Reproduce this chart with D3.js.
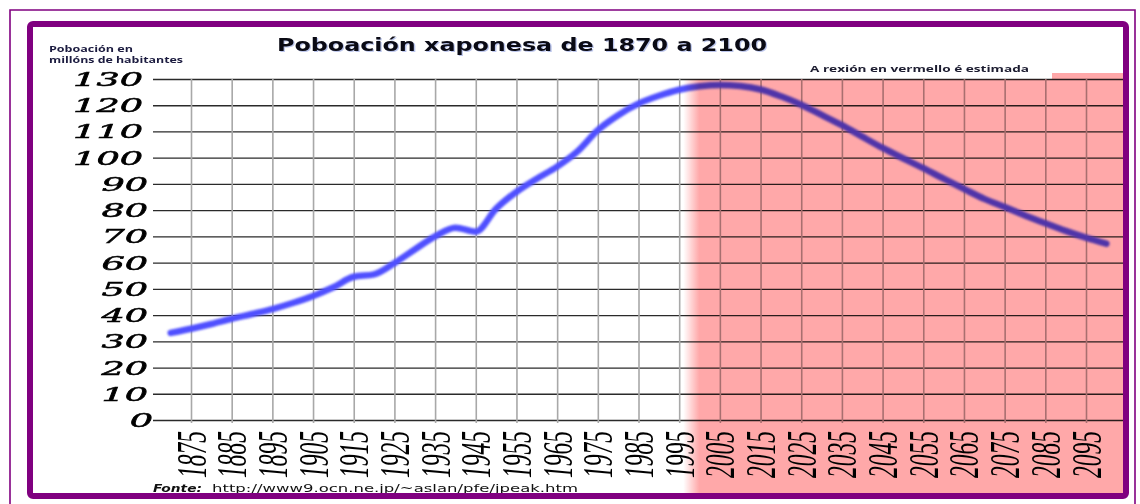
<!DOCTYPE html>
<html>
<head>
<meta charset="utf-8">
<script src="https://cdn.jsdelivr.net/npm/d3@7"></script>
<style>
  html, body { margin: 0; padding: 0; background: #fff; }
  svg { display: block; }
</style>
</head>
<body>
<svg id="chart" width="1140" height="504"></svg>
<script>
// ---- data ----
const years = [1870,1875,1880,1885,1890,1895,1900,1905,1910,1915,1920,1925,1930,1935,1940,1945,1950,1955,1960,1965,1970,1975,1980,1985,1990,1995,2000,2005,2010,2015,2020,2025,2030,2035,2040,2045,2050,2055,2060,2065,2070,2075,2080,2085,2090,2095,2100];
const population = [33.2,34.8,36.6,38.6,40.4,42.3,44.6,47.3,50.6,54.6,55.5,59.8,65.0,70.0,73.3,71.8,80.6,87.0,92.0,96.6,102.4,110.5,116.2,120.6,123.6,125.9,127.2,127.7,127.3,126.0,123.4,120.2,116.3,112.4,108.0,103.7,99.8,96.0,92.0,88.1,84.3,81.2,78.0,75.0,72.1,69.5,67.2];
const xTicks = [1875,1885,1895,1905,1915,1925,1935,1945,1955,1965,1975,1985,1995,2005,2015,2025,2035,2045,2055,2065,2075,2085,2095];
const yTicks = [0,10,20,30,40,50,60,70,80,90,100,110,120,130];
const titleText = "Poboación xaponesa de 1870 a 2100";
const yTitle = ["Poboación en", "millóns de habitantes"];
const noteText = "A rexión en vermello é estimada";
const sourceLabel = "Fonte:";
const sourceUrl = "http://www9.ocn.ne.jp/~aslan/pfe/jpeak.htm";
const estimateStart = 1996.5;

// ---- layout ----
const svg = d3.select("#chart");
const gridLeft = 153, gridRight = 1123;
const x = d3.scaleLinear().domain([1875, 2095]).range([191, 1086]);
const y = d3.scaleLinear().domain([0, 130]).range([420, 79]);

const defs = svg.append("defs");
const blur = defs.append("filter").attr("id", "blur").attr("x", "-5%").attr("y", "-20%").attr("width", "110%").attr("height", "140%");
blur.append("feGaussianBlur").attr("stdDeviation", 1.2);
const grad = defs.append("linearGradient").attr("id", "redGrad")
  .attr("gradientUnits", "userSpaceOnUse")
  .attr("x1", x(estimateStart) - 2).attr("x2", x(estimateStart) + 14).attr("y1", 0).attr("y2", 0);
grad.append("stop").attr("offset", 0).attr("stop-color", "#ffffff");
grad.append("stop").attr("offset", 1).attr("stop-color", "#ffa8a9");

// outer thin frame
svg.append("path")
  .attr("d", "M10,504 L10,10 L1135,10 L1135,504")
  .attr("fill", "none").attr("stroke", "#800080").attr("stroke-width", 1.6);

// ---- gridlines via axes ----
const yAxis = svg.append("g").attr("transform", `translate(${gridLeft},0)`)
  .call(d3.axisLeft(y).tickValues(yTicks).tickSize(-(gridRight - gridLeft)).tickPadding(6).tickFormat(d => d));
yAxis.select(".domain").remove();
yAxis.selectAll(".tick line").attr("stroke", "#2a2a2a").attr("stroke-width", 1.3);
yAxis.selectAll(".tick text")
  .attr("font-family", "'DejaVu Serif', 'Liberation Serif', serif")
  .attr("font-style", "italic")
  .attr("font-size", 18)
  .attr("fill", "#000")
  .attr("stroke", "#000").attr("stroke-width", 0.5)
  .attr("x", d => d >= 100 ? -10 : (d >= 10 ? -5 : 0))
  .attr("dy", "0.36em")
  .attr("textLength", d => String(d).length * 23.3)
  .attr("lengthAdjust", "spacingAndGlyphs");

const xAxis = svg.append("g").attr("transform", `translate(0,${y(0)})`)
  .call(d3.axisBottom(x).tickValues(xTicks).tickSize(-(y(0) - y(130))).tickFormat(d => d));
xAxis.select(".domain").remove();
xAxis.selectAll(".tick line").attr("stroke", "#a8a8a8").attr("stroke-width", 1.6).attr("y1", 3);
xAxis.selectAll(".tick text")
  .attr("font-family", "'Liberation Serif', 'DejaVu Serif', serif")
  .attr("font-style", "italic")
  .attr("font-size", 42)
  .attr("fill", "#000")
  .attr("text-anchor", "end")
  .attr("y", 0)
  .attr("dy", 0)
  .attr("transform", "translate(14,11) rotate(-90)")
  .attr("textLength", 47)
  .attr("lengthAdjust", "spacingAndGlyphs");

// ---- population line ----
const line = d3.line().x((d, i) => x(years[i])).y(d => y(d)).curve(d3.curveMonotoneX);
svg.append("path")
  .datum(population)
  .attr("d", line)
  .attr("fill", "none")
  .attr("stroke", "#4f4fff")
  .attr("stroke-width", 6.5)
  .attr("stroke-linecap", "round")
  .attr("stroke-linejoin", "round")
  .attr("filter", "url(#blur)");

// ---- estimated region (multiplied over everything) ----
const rx0 = x(estimateStart) - 2, rNoteEnd = 1052, rTop = 73, rBottom = 494;
svg.append("path")
  .attr("d", `M${rx0},${y(130)} L${rNoteEnd},${y(130)} L${rNoteEnd},${rTop} L${gridRight},${rTop} L${gridRight},${rBottom} L${rx0},${rBottom} Z`)
  .attr("fill", "url(#redGrad)")
  .style("mix-blend-mode", "multiply");

// ---- texts ----
svg.append("text")
  .attr("x", 277).attr("y", 51)
  .attr("font-family", "'DejaVu Sans', Verdana, sans-serif")
  .attr("font-weight", "bold").attr("font-size", 18.5)
  .attr("fill", "#0a0a14")
  .attr("textLength", 490).attr("lengthAdjust", "spacingAndGlyphs")
  .style("text-shadow", "1px 1px 0 rgba(60,90,200,0.35)")
  .text(titleText);

svg.selectAll("text.ytitle").data(yTitle).join("text")
  .attr("class", "ytitle")
  .attr("x", 49).attr("y", (d, i) => 52 + i * 11)
  .attr("font-family", "'Open Sans', 'DejaVu Sans', sans-serif")
  .attr("font-weight", "bold").attr("font-size", 8.5)
  .attr("fill", "#1c1c40")
  .attr("textLength", (d, i) => i === 0 ? 84 : 134).attr("lengthAdjust", "spacingAndGlyphs")
  .text(d => d);

svg.append("text")
  .attr("x", 810).attr("y", 72)
  .attr("font-family", "'Open Sans', 'DejaVu Sans', sans-serif")
  .attr("font-weight", "bold").attr("font-size", 9.5)
  .attr("fill", "#1c1c30")
  .attr("textLength", 219).attr("lengthAdjust", "spacingAndGlyphs")
  .text(noteText);

svg.append("text")
  .attr("x", 153).attr("y", 492)
  .attr("font-family", "'DejaVu Sans', Verdana, sans-serif")
  .attr("font-weight", "bold").attr("font-style", "italic").attr("font-size", 10.5)
  .attr("fill", "#111")
  .attr("textLength", 49).attr("lengthAdjust", "spacingAndGlyphs")
  .text(sourceLabel);
svg.append("text")
  .attr("x", 212).attr("y", 492)
  .attr("font-family", "'DejaVu Sans', Verdana, sans-serif")
  .attr("font-size", 10.5)
  .attr("fill", "#111")
  .attr("textLength", 366).attr("lengthAdjust", "spacingAndGlyphs")
  .text(sourceUrl);

// thick inner frame
svg.append("rect")
  .attr("x", 30).attr("y", 24).attr("width", 1096).attr("height", 472)
  .attr("rx", 3)
  .attr("fill", "none").attr("stroke", "#800080").attr("stroke-width", 6);
</script>
</body>
</html>
